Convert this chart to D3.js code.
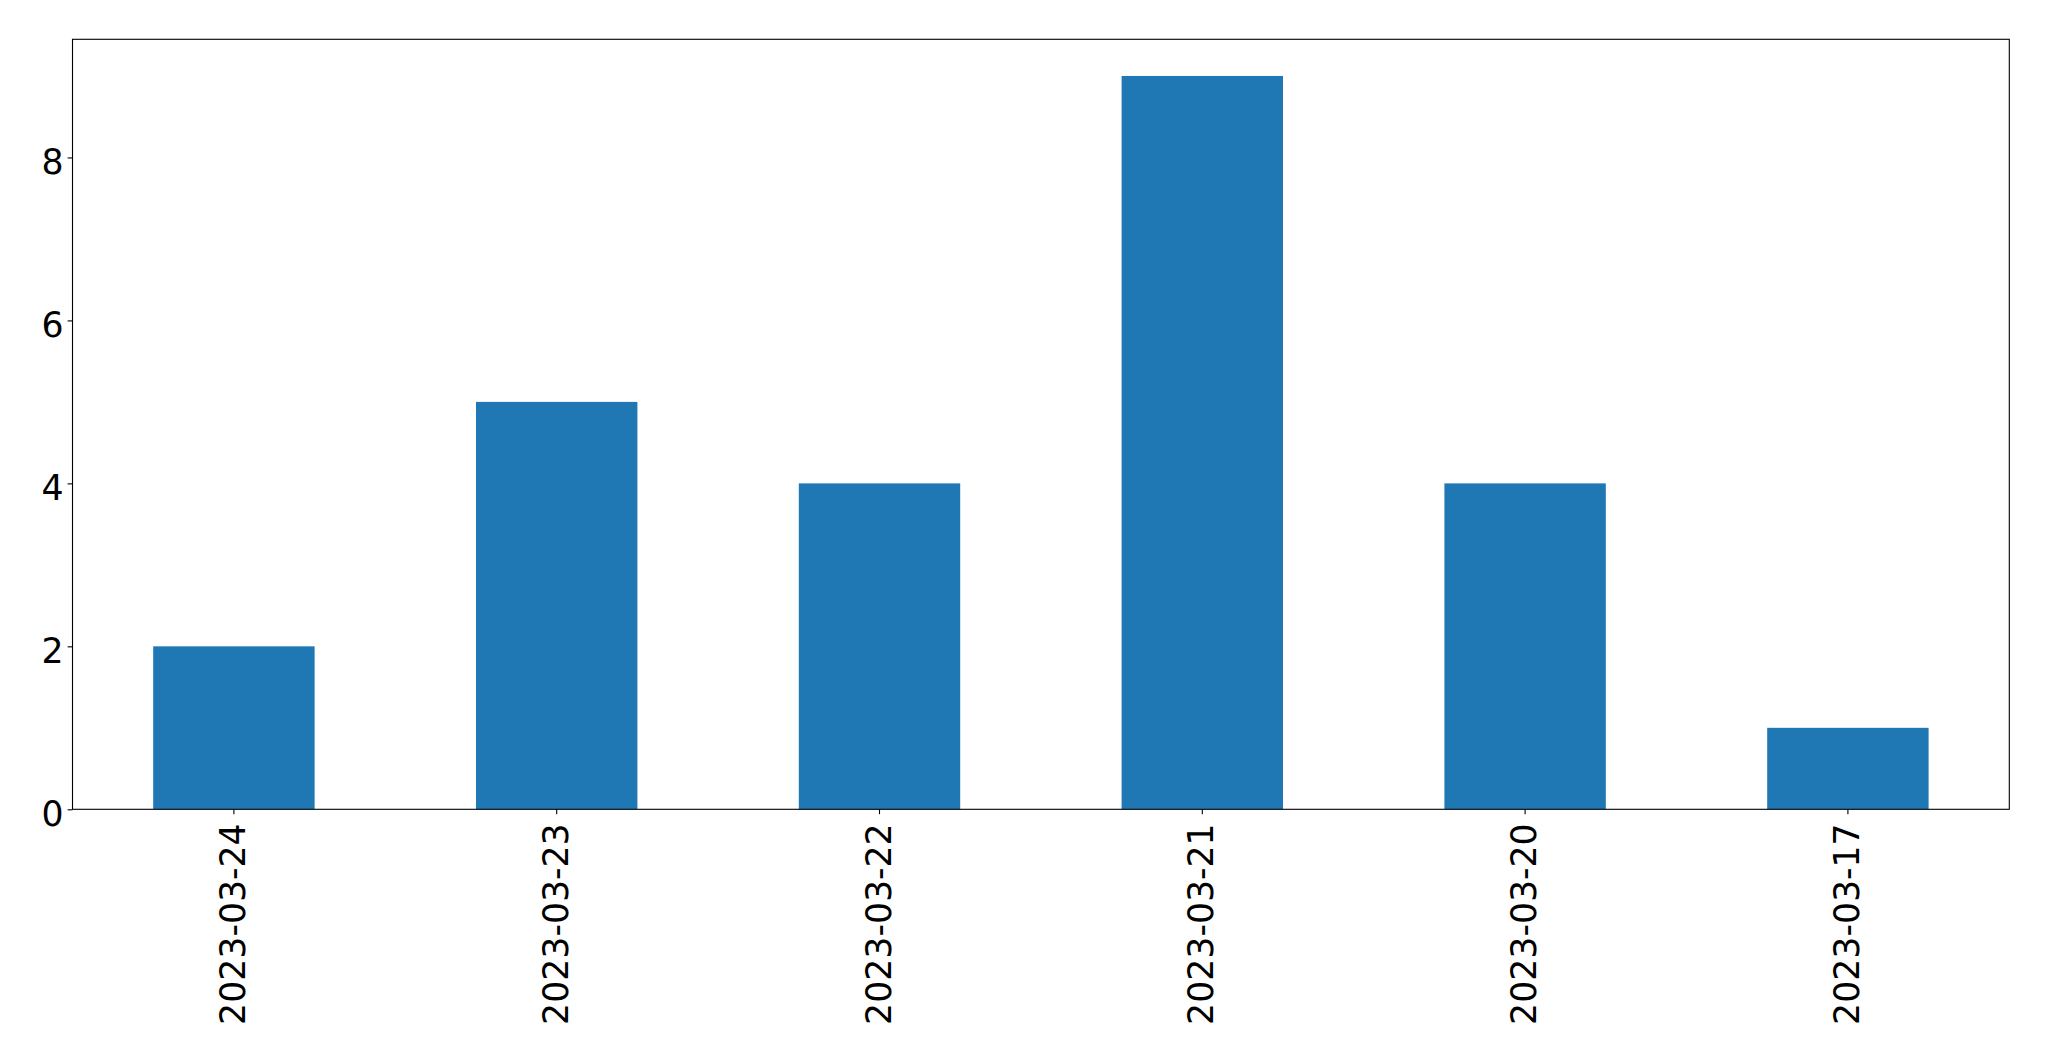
<!DOCTYPE html>
<html><head><meta charset="utf-8">
<script src="https://cdn.jsdelivr.net/npm/d3@7"></script>
<style>body{margin:0;background:#fff}svg{display:block}text{font-family:"DejaVu Sans",sans-serif}</style>
</head><body>
<svg id="c" width="2049" height="1061"></svg>
<script>
const categories = ["2023-03-24","2023-03-23","2023-03-22","2023-03-21","2023-03-20","2023-03-17"];
const values = [2,5,4,9,4,1];
const yTicks = [0,2,4,6,8];

const W=2049,H=1061;
const m={left:72.5,top:39.3,right:2049-2009.3,bottom:1061-809.3};
const svg=d3.select("#c");
const iw=W-m.left-m.right, ih=H-m.top-m.bottom;
const g=svg.append("g").attr("transform",`translate(${m.left},${m.top})`);
const fs=34.7;

const x=d3.scaleBand().domain(categories).range([0,iw]).paddingInner(0.5).paddingOuter(0.25);
const y=d3.scaleLinear().domain([0,d3.max(values)*1.05]).range([ih,0]);

g.selectAll("rect.bar").data(values).join("rect").attr("class","bar")
 .attr("x",(d,i)=>x(categories[i])).attr("width",x.bandwidth())
 .attr("y",d=>y(d)).attr("height",d=>ih-y(d)).attr("fill","#1f77b4");

// y axis
const ya=g.append("g").call(d3.axisLeft(y).tickValues(yTicks).tickFormat(d3.format("d")).tickSize(4.9).tickPadding(4));
ya.select(".domain").remove();
ya.selectAll(".tick line").attr("stroke","#000").attr("stroke-width",1.1);
ya.selectAll(".tick text").attr("font-size",fs).attr("fill","#000").attr("font-family","DejaVu Sans").attr("dy",(0.364*fs+3.3)+"px");

// x axis
const xa=g.append("g").attr("transform",`translate(0,${ih})`).call(d3.axisBottom(x).tickSize(4.9).tickPadding(0));
xa.select(".domain").remove();
xa.selectAll(".tick line").attr("stroke","#000").attr("stroke-width",1.1);
xa.selectAll(".tick text").attr("font-size",fs).attr("fill","#000").attr("font-family","DejaVu Sans")
 .attr("text-anchor","end").attr("dy",null).attr("y",null)
 .attr("transform",`translate(${0.364*fs-1.6},14) rotate(-90)`);

// frame
g.append("rect").attr("x",0).attr("y",0).attr("width",iw).attr("height",ih)
 .attr("fill","none").attr("stroke","#000").attr("stroke-width",1.1);
</script>
</body></html>
